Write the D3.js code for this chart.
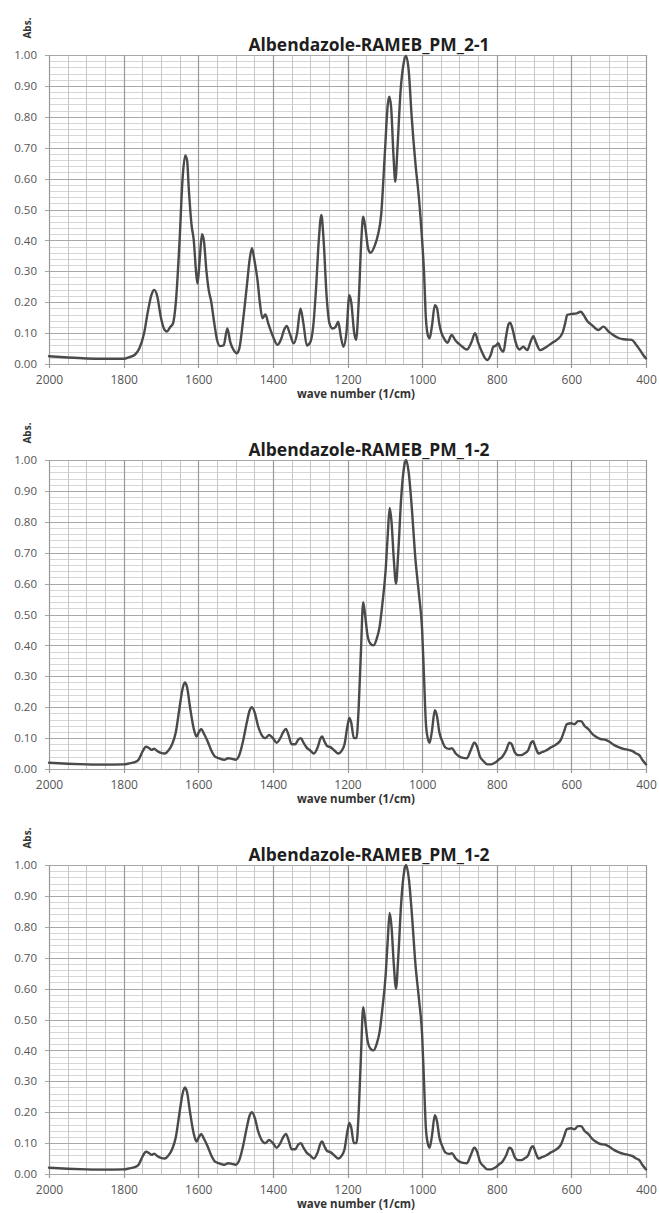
<!DOCTYPE html>
<html><head><meta charset="utf-8">
<script src="https://cdn.jsdelivr.net/npm/d3@7"></script>
<style>body{margin:0;background:#fff} svg{display:block}</style>
</head><body>
<svg id="c" width="659" height="1213"></svg>
<script>
// ---------- data ----------
const panelTitles = ["Albendazole-RAMEB_PM_2-1", "Albendazole-RAMEB_PM_1-2", "Albendazole-RAMEB_PM_1-2"];
const xTickValues = [2000, 1800, 1600, 1400, 1200, 1000, 800, 600, 400];
const yTickValues = [0, 0.1, 0.2, 0.3, 0.4, 0.5, 0.6, 0.7, 0.8, 0.9, 1.0];
const xAxisTitle = "wave number (1/cm)";
const yAxisTitle = "Abs.";

// [wave number (1/cm), absorbance]
const spectrum_2_1 = [
 [2000,0.025],[1950,0.021],[1900,0.018],[1850,0.017],[1800,0.017],[1785,0.022],[1770,0.03],[1758,0.05],
 [1745,0.1],[1735,0.17],[1725,0.225],[1718,0.24],[1710,0.22],[1700,0.15],[1690,0.11],[1684,0.105],
 [1675,0.12],[1668,0.13],[1660,0.2],[1650,0.4],[1642,0.6],[1635,0.675],[1630,0.66],[1625,0.56],
 [1618,0.45],[1612,0.4],[1606,0.3],[1602,0.26],[1596,0.34],[1590,0.42],[1585,0.4],[1578,0.3],
 [1572,0.24],[1565,0.2],[1558,0.14],[1550,0.08],[1542,0.058],[1532,0.06],[1522,0.115],[1514,0.07],
 [1505,0.045],[1497,0.035],[1490,0.05],[1480,0.14],[1470,0.25],[1462,0.34],[1456,0.375],[1450,0.34],
 [1441,0.27],[1435,0.2],[1428,0.148],[1420,0.16],[1412,0.13],[1400,0.09],[1388,0.062],[1378,0.08],
 [1370,0.11],[1363,0.123],[1355,0.1],[1344,0.067],[1335,0.1],[1326,0.18],[1318,0.13],[1309,0.06],
 [1300,0.07],[1292,0.12],[1284,0.25],[1277,0.4],[1270,0.482],[1264,0.4],[1256,0.22],[1248,0.13],
 [1240,0.115],[1232,0.12],[1225,0.137],[1218,0.09],[1211,0.056],[1203,0.1],[1195,0.223],[1190,0.2],
 [1182,0.1],[1177,0.078],[1170,0.2],[1163,0.4],[1158,0.477],[1152,0.44],[1145,0.375],[1138,0.36],
 [1128,0.38],[1118,0.42],[1110,0.48],[1100,0.68],[1092,0.84],[1088,0.865],[1083,0.83],[1077,0.68],
 [1072,0.59],[1066,0.7],[1058,0.88],[1050,0.97],[1043,0.997],[1036,0.95],[1028,0.8],[1018,0.65],
 [1008,0.53],[1000,0.4],[995,0.3],[990,0.15],[984,0.09],[980,0.083],[974,0.12],[966,0.19],
 [960,0.18],[954,0.13],[948,0.1],[940,0.08],[932,0.069],[921,0.094],[910,0.075],[898,0.062],
 [880,0.047],[868,0.07],[858,0.1],[850,0.07],[840,0.04],[832,0.02],[825,0.013],[816,0.03],
 [809,0.056],[802,0.06],[796,0.067],[790,0.05],[782,0.04],[775,0.09],[768,0.13],[764,0.134],
 [757,0.11],[751,0.078],[745,0.055],[739,0.047],[729,0.056],[718,0.045],[710,0.07],[702,0.09],
 [695,0.07],[684,0.045],[666,0.056],[652,0.068],[639,0.078],[624,0.1],[617,0.13],[611,0.159],
 [600,0.162],[586,0.164],[575,0.169],[568,0.16],[558,0.14],[545,0.126],[528,0.11],[514,0.121],
 [500,0.105],[488,0.094],[475,0.085],[461,0.08],[448,0.079],[438,0.078],[428,0.065],[416,0.045],
 [408,0.03],[400,0.018]
];

const spectrum_1_2 = [
 [2000,0.02],[1950,0.017],[1900,0.015],[1850,0.014],[1800,0.015],[1785,0.018],[1770,0.022],[1760,0.03],
 [1750,0.055],[1740,0.072],[1732,0.068],[1725,0.062],[1718,0.066],[1710,0.058],[1700,0.052],[1690,0.05],
 [1680,0.06],[1670,0.08],[1660,0.12],[1650,0.2],[1642,0.26],[1636,0.28],[1630,0.265],[1622,0.2],
 [1612,0.13],[1605,0.105],[1598,0.12],[1592,0.13],[1585,0.115],[1575,0.09],[1565,0.06],[1555,0.04],
 [1545,0.035],[1530,0.03],[1520,0.035],[1510,0.033],[1500,0.03],[1490,0.045],[1480,0.09],[1470,0.15],
 [1462,0.19],[1456,0.2],[1448,0.18],[1440,0.14],[1430,0.11],[1420,0.1],[1410,0.11],[1400,0.1],
 [1390,0.085],[1380,0.1],[1372,0.12],[1365,0.13],[1358,0.11],[1350,0.08],[1340,0.08],[1332,0.095],
 [1325,0.1],[1318,0.085],[1310,0.07],[1300,0.06],[1290,0.05],[1280,0.07],[1272,0.1],[1268,0.105],
 [1262,0.09],[1255,0.075],[1245,0.07],[1235,0.06],[1225,0.05],[1215,0.06],[1208,0.08],[1200,0.14],
 [1195,0.165],[1190,0.15],[1183,0.1],[1176,0.1],[1170,0.2],[1164,0.38],[1158,0.54],[1153,0.5],
 [1146,0.43],[1138,0.405],[1130,0.4],[1122,0.42],[1114,0.46],[1106,0.54],[1098,0.64],[1092,0.76],
 [1087,0.845],[1082,0.8],[1076,0.68],[1070,0.6],[1064,0.7],[1056,0.88],[1048,0.98],[1043,1.0],
 [1036,0.96],[1028,0.85],[1018,0.68],[1008,0.56],[1000,0.45],[995,0.3],[990,0.15],[985,0.1],
 [980,0.085],[974,0.12],[966,0.19],[960,0.17],[954,0.12],[946,0.09],[938,0.07],[928,0.065],
 [920,0.067],[910,0.05],[900,0.04],[890,0.036],[880,0.035],[870,0.06],[860,0.085],[852,0.07],
 [845,0.04],[835,0.025],[825,0.015],[815,0.015],[805,0.02],[795,0.03],[785,0.04],[775,0.06],
 [766,0.085],[760,0.08],[752,0.055],[742,0.045],[734,0.045],[726,0.05],[716,0.06],[708,0.085],
 [703,0.09],[696,0.07],[688,0.05],[678,0.055],[668,0.06],[655,0.07],[640,0.08],[628,0.095],
 [620,0.12],[612,0.145],[600,0.148],[592,0.145],[582,0.155],[574,0.155],[565,0.14],[555,0.13],
 [545,0.115],[535,0.105],[522,0.097],[510,0.095],[498,0.088],[486,0.078],[472,0.07],[460,0.065],
 [448,0.062],[436,0.058],[426,0.05],[418,0.045],[410,0.03],[400,0.015]
];

const panelSpectra = [spectrum_2_1, spectrum_1_2, spectrum_1_2];

// ---------- layout ----------
const plotLeft = 49, plotRight = 646;
const panelTops = [55, 460, 865];
const panelH = 309;

const svg = d3.select("#c");
const x = d3.scaleLinear().domain([2000, 400]).range([plotLeft, plotRight]);
const y = d3.scaleLinear().domain([0, 1]).range([panelH, 0]);

const minorX = d3.range(2000, 399, -50).filter(v => v % 200 !== 0);
const minorY = d3.range(0, 51, 1).map(v => v / 50).filter((v, i) => i % 5 !== 0);

const line = d3.line().x(d => x(d[0])).y(d => y(d[1])).curve(d3.curveMonotoneX);

function fitText(sel, target) {
  const w = sel.node().getComputedTextLength();
  const fs = parseFloat(sel.attr("font-size"));
  sel.attr("font-size", (fs * target / w).toFixed(2));
}

panelSpectra.forEach((data, i) => {
  const g = svg.append("g").attr("transform", `translate(0,${panelTops[i]})`);

  // minor horizontal grid
  g.append("g").selectAll("line").data(minorY).join("line")
    .attr("x1", plotLeft).attr("x2", plotRight)
    .attr("y1", d => Math.round(y(d)) + 0.5).attr("y2", d => Math.round(y(d)) + 0.5)
    .attr("stroke", "#d6d6d6").attr("stroke-width", 1);
  // minor vertical grid
  g.append("g").selectAll("line").data(minorX).join("line")
    .attr("x1", d => Math.round(x(d)) + 0.5).attr("x2", d => Math.round(x(d)) + 0.5)
    .attr("y1", 0).attr("y2", panelH)
    .attr("stroke", "#c6c6c6").attr("stroke-width", 1);
  // major horizontal grid
  g.append("g").selectAll("line").data(yTickValues).join("line")
    .attr("x1", plotLeft - 4).attr("x2", plotRight)
    .attr("y1", d => Math.round(y(d)) + 0.5).attr("y2", d => Math.round(y(d)) + 0.5)
    .attr("stroke", "#a8a8a8").attr("stroke-width", 1);
  // major vertical grid
  g.append("g").selectAll("line").data(xTickValues).join("line")
    .attr("x1", d => Math.round(x(d)) + 0.5).attr("x2", d => Math.round(x(d)) + 0.5)
    .attr("y1", 0).attr("y2", panelH + 4)
    .attr("stroke", "#999999").attr("stroke-width", 1.2);

  // axis tick labels via d3 axes
  const ya = g.append("g").attr("transform", `translate(${plotLeft},0)`)
    .call(d3.axisLeft(y).tickValues(yTickValues).tickFormat(d3.format(".2f")).tickSize(0).tickPadding(12));
  ya.select(".domain").remove();
  ya.selectAll("text").attr("font-family", "Open Sans, sans-serif").attr("font-size", 11.5).attr("fill", "#555");

  const xa = g.append("g").attr("transform", `translate(0,${panelH})`)
    .call(d3.axisBottom(x).tickValues(xTickValues).tickFormat(d3.format("d")).tickSize(0).tickPadding(11));
  xa.select(".domain").remove();
  xa.selectAll("text").attr("font-family", "Open Sans, sans-serif").attr("font-size", 12).attr("fill", "#555");

  // spectrum line
  g.append("path").datum(data).attr("d", line)
    .attr("fill", "none").attr("stroke", "#4a4a4a").attr("stroke-width", 2.4)
    .attr("stroke-linejoin", "round").attr("stroke-linecap", "round");

  // title
  const t = g.append("text").text(panelTitles[i])
    .attr("x", 369).attr("y", -4).attr("text-anchor", "middle")
    .attr("font-family", "Open Sans, sans-serif").attr("font-weight", "bold")
    .attr("font-size", 15).attr("fill", "#1e1e1e");
  fitText(t, 241);

  // x axis title
  const xt = g.append("text").text(xAxisTitle)
    .attr("x", 356).attr("y", panelH + 34).attr("text-anchor", "middle")
    .attr("font-family", "Open Sans, sans-serif").attr("font-weight", "bold")
    .attr("font-size", 10).attr("fill", "#333");
  fitText(xt, 118);

  // y axis title
  g.append("text").text(yAxisTitle)
    .attr("transform", `translate(31,-27) rotate(-90)`).attr("text-anchor", "middle")
    .attr("font-family", "Open Sans, sans-serif").attr("font-weight", "bold")
    .attr("font-size", 10).attr("fill", "#333");
});
</script>
</body></html>
